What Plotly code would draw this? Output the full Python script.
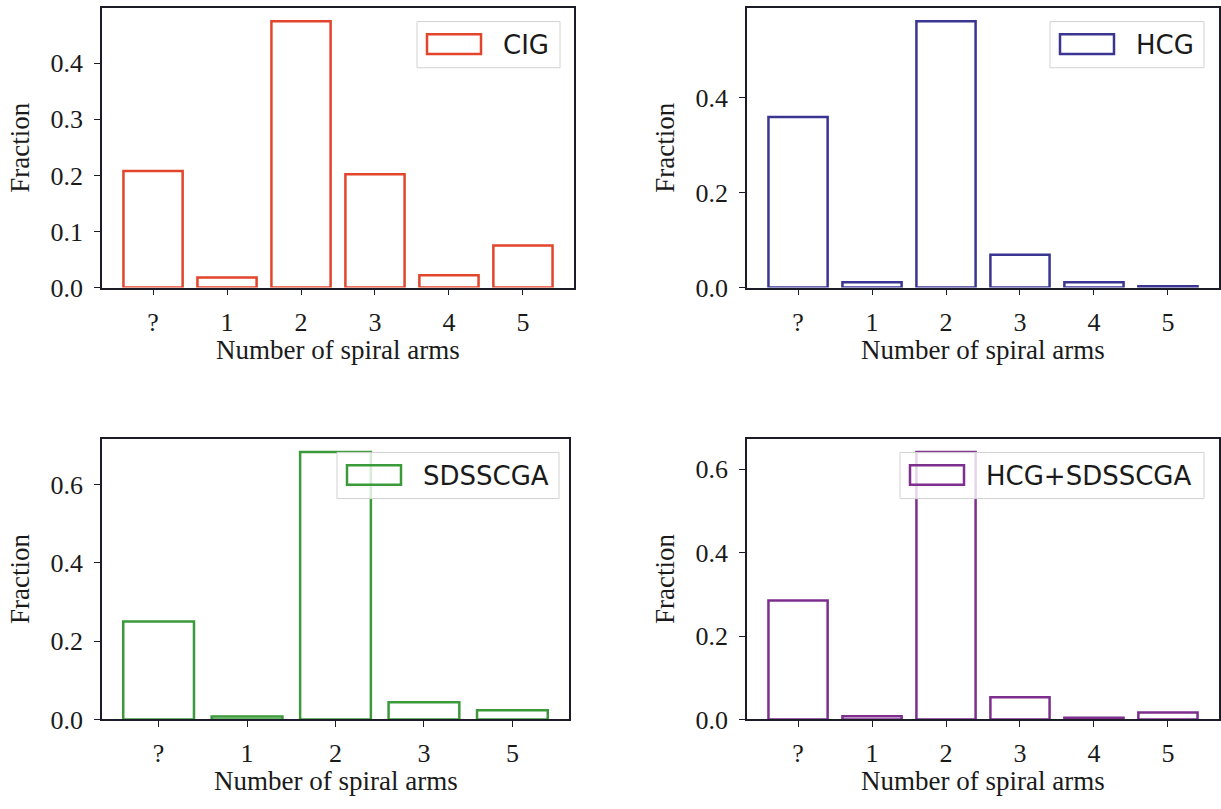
import plotly.graph_objects as go

# ---- data ----
CATS_6 = ["?", "1", "2", "3", "4", "5"]
CATS_5 = ["?", "1", "2", "3", "5"]

CIG = [0.208, 0.018, 0.475, 0.202, 0.022, 0.075]
HCG = [0.359, 0.011, 0.561, 0.069, 0.011, 0.003]
SDSSCGA = [0.250, 0.0075, 0.683, 0.044, 0.0235]
HCG_SDSSCGA = [0.285, 0.0075, 0.641, 0.053, 0.004, 0.0165]

NAMES = ["CIG", "HCG", "SDSSCGA", "HCG+SDSSCGA"]
COLORS = ["#e2452b", "#3b3592", "#3a9a3a", "#7e2f8e"]
YDTICK = [0.1, 0.2, 0.2, 0.2]

W, H = 1221, 809
# frame pixel boxes (left, top, right, bottom)
FRAMES = [(102, 8, 574, 293), (747, 8, 1219, 293),
          (102, 447, 569, 733), (747, 447, 1219, 733)]
# legend widths (px)
LEG_W = [143, 154, 222, 304]
LEG_RIGHT_INSET = [14, 15, 10, 15]

panels = [(CATS_6, CIG), (CATS_6, HCG), (CATS_5, SDSSCGA), (CATS_6, HCG_SDSSCGA)]

fig = go.Figure()
shapes = []
annotations = []
FRAME_COLOR = "#1c1c28"
SERIF = "Liberation Serif"
SANS = "DejaVu Sans"
TICKFONT = dict(family=SERIF, size=26, color="#1a1a1a")

for i, ((cats, vals), name, col) in enumerate(zip(panels, NAMES, COLORS)):
    n = i + 1
    xa = "x" if n == 1 else f"x{n}"
    ya = "y" if n == 1 else f"y{n}"
    l, t, r, b = FRAMES[i]
    fw, fh = r - l, b - t
    fig.add_trace(go.Bar(
        x=cats, y=vals, name=name, width=0.8,
        marker=dict(color="rgba(0,0,0,0)", line=dict(color=col, width=2.5)),
        xaxis=xa, yaxis=ya, showlegend=False, hoverinfo="x+y"))
    ymax = max(vals) * 1.05
    nc = len(cats)
    axis_common = dict(showline=True, mirror=True, linecolor=FRAME_COLOR, linewidth=1.6,
                       ticks="outside", ticklen=6, tickwidth=1.2, tickcolor=FRAME_COLOR,
                       showgrid=False, zeroline=False, tickfont=TICKFONT)
    fig.update_layout(**{
        ("xaxis" if n == 1 else f"xaxis{n}"): dict(
            domain=[l / W, r / W], anchor=ya, type="category",
            range=[-0.4 - 0.05 * (nc - 0.2), nc - 0.6 + 0.05 * (nc - 0.2)],
            ticklabelstandoff=4, **axis_common),
        ("yaxis" if n == 1 else f"yaxis{n}"): dict(
            domain=[1 - b / H, 1 - t / H], anchor=xa,
            range=[0, ymax], dtick=YDTICK[i], tick0=0, tickformat=".1f",
            ticklabelstandoff=6, **axis_common),
    })
    xd, yd = f"{xa} domain", f"{ya} domain"
    # axis titles
    annotations.append(dict(text="Number of spiral arms", x=0.5, y=0, xref=xd, yref=yd,
                            yshift=-62, showarrow=False, xanchor="center", yanchor="middle",
                            font=dict(family=SERIF, size=27, color="#1a1a1a")))
    annotations.append(dict(text="Fraction", x=0, y=0.5, xref=xd, yref=yd, xshift=-82,
                            textangle=-90, showarrow=False, xanchor="center", yanchor="middle",
                            font=dict(family=SERIF, size=27, color="#1a1a1a")))
    # legend box
    lw, lh = LEG_W[i], 47
    lx1 = fw - LEG_RIGHT_INSET[i]
    lx0 = lx1 - lw
    ly0 = 14
    ly1 = ly0 + lh
    shapes.append(dict(type="rect", xref=xd, yref=yd,
                       x0=lx0 / fw, x1=lx1 / fw, y0=1 - ly1 / fh, y1=1 - ly0 / fh,
                       fillcolor="rgba(255,255,255,0.8)", line=dict(color="#d2d2d2", width=1),
                       layer="above"))
    sx0 = lx0 + 10
    sx1 = sx0 + 54
    sy0 = ly0 + 13
    sy1 = sy0 + 20
    shapes.append(dict(type="rect", xref=xd, yref=yd,
                       x0=sx0 / fw, x1=sx1 / fw, y0=1 - sy1 / fh, y1=1 - sy0 / fh,
                       fillcolor="rgba(0,0,0,0)", line=dict(color=col, width=2.5),
                       layer="above"))
    annotations.append(dict(text=name, x=(sx1 + 20) / fw, y=1 - (ly0 + lh / 2) / fh,
                            xref=xd, yref=yd, showarrow=False, xanchor="left",
                            yanchor="middle",
                            font=dict(family=SANS, size=26, color="#1a1a1a")))

fig.update_layout(width=W, height=H, margin=dict(l=0, r=0, t=0, b=0),
                  plot_bgcolor="white", paper_bgcolor="white",
                  shapes=shapes, annotations=annotations, showlegend=False)
fig.update_xaxes(tickfont=TICKFONT)
fig.update_yaxes(tickfont=TICKFONT)

fig.write_html("out.html")
